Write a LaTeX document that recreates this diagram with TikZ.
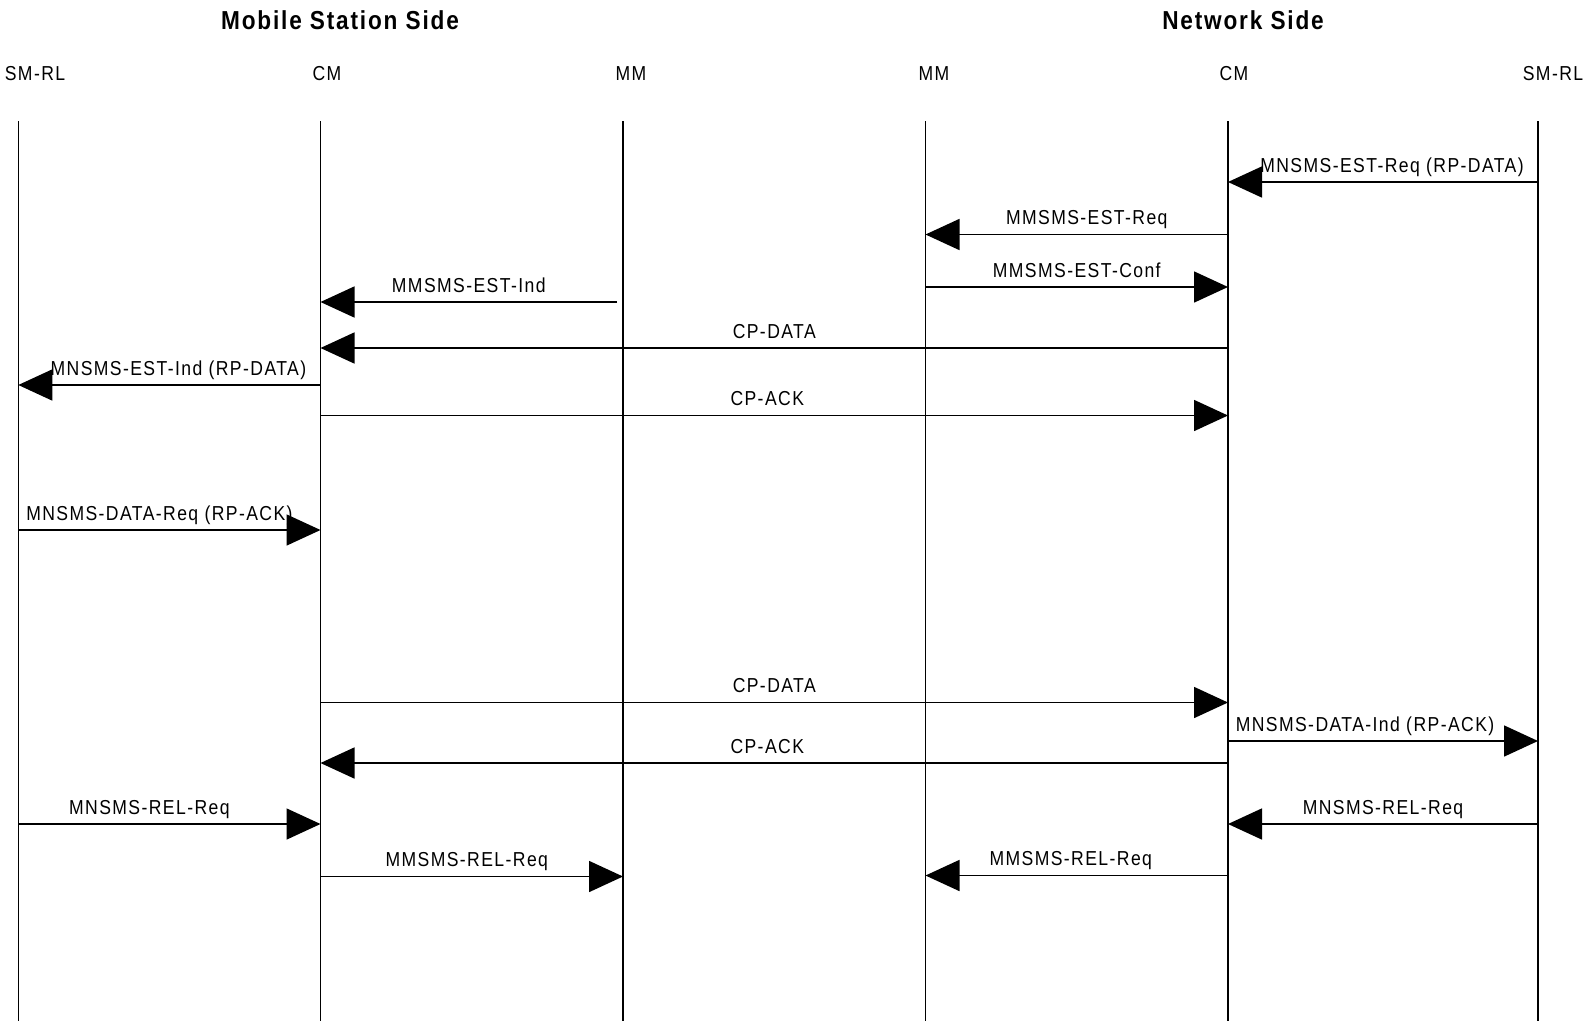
\documentclass[tikz,border=0pt]{standalone}
\usepackage{fontspec}
\setmainfont{Liberation Sans}[FakeStretch=0.87,LetterSpace=7]
\usetikzlibrary{arrows.meta}

\begin{document}
\begin{tikzpicture}[x=0.5pt, y=-0.5pt,
  lifeline/.style={line width=0.8pt},
  msg/.style={line width=0.8pt, -{Triangle[length=17pt,width=15.5pt]}},
  lbl/.style={font=\fontsize{10.1}{12}\selectfont, inner sep=0pt, anchor=base},
  side/.style={font=\fontsize{13}{15}\bfseries\selectfont, inner sep=0pt},
  ]
  \useasboundingbox (0,0) rectangle (1585,1023);

  % the two sides
  \node[side] (mobile) at (340,20) {Mobile Station Side};
  \node[side] (network) at (1243,20) {Network Side};

  % layer names
  \node[lbl] (smrlA) at (35,80) {SM-RL};
  \node[lbl] (cmA) at (327,80) {CM};
  \node[lbl] (mmA) at (631,80) {MM};
  \node[lbl] (mmB) at (934,80) {MM};
  \node[lbl] (cmB) at (1234,80) {CM};
  \node[lbl] (smrlB) at (1553,80) {SM-RL};

  % lifelines
  \foreach \name/\x in {sA/18.3, cA/320.5, mA/623, mB/925.5, cB/1228, sB/1538} {
    \coordinate (\name) at (\x,121);
    \coordinate (\name end) at (\x,1021);
    \draw[lifeline] (\name) -- (\name end);
  }

  % establishment
  \draw[msg] (sB |- 0,182) -- node[lbl, midway, yshift=5pt, xshift=4.5pt] {MNSMS-EST-Req (RP-DATA)} (cB |- 0,182);
  \draw[msg] (cB |- 0,234.5) -- node[lbl, midway, yshift=5pt, xshift=5pt] {MMSMS-EST-Req} (mB |- 0,234.5);
  \draw[msg] (mB |- 0,287) -- node[lbl, midway, yshift=5pt] {MMSMS-EST-Conf} (cB |- 0,287);
  \draw[msg] ([xshift=-3pt]mA |- 0,302) -- node[lbl, midway, yshift=5pt] {MMSMS-EST-Ind} (cA |- 0,302);
  \draw[msg] (cB |- 0,348) -- node[lbl, midway, yshift=5pt] {CP-DATA} (cA |- 0,348);
  \draw[msg] (cA |- 0,385) -- node[lbl, midway, yshift=5pt, xshift=4.5pt] {MNSMS-EST-Ind (RP-DATA)} (sA |- 0,385);
  \draw[msg] (cA |- 0,415.5) -- node[lbl, midway, yshift=5pt, xshift=-3.5pt] {CP-ACK} (cB |- 0,415.5);

  % report
  \draw[msg] (sA |- 0,530) -- node[lbl, midway, yshift=5pt, xshift=-5pt] {MNSMS-DATA-Req (RP-ACK)} (cA |- 0,530);
  \draw[msg] (cA |- 0,702.5) -- node[lbl, midway, yshift=5pt] {CP-DATA} (cB |- 0,702.5);
  \draw[msg] (cB |- 0,741) -- node[lbl, midway, yshift=5pt, xshift=-9pt] {MNSMS-DATA-Ind (RP-ACK)} (sB |- 0,741);
  \draw[msg] (cB |- 0,763) -- node[lbl, midway, yshift=5pt, xshift=-3.5pt] {CP-ACK} (cA |- 0,763);

  % release
  \draw[msg] (sA |- 0,824) -- node[lbl, midway, yshift=5pt, xshift=-10pt] {MNSMS-REL-Req} (cA |- 0,824);
  \draw[msg] (sB |- 0,824) -- node[lbl, midway, yshift=5pt] {MNSMS-REL-Req} (cB |- 0,824);
  \draw[msg] (cA |- 0,876.5) -- node[lbl, midway, yshift=5pt, xshift=-2.5pt] {MMSMS-REL-Req} (mA |- 0,876.5);
  \draw[msg] (cB |- 0,875.5) -- node[lbl, midway, yshift=5pt, xshift=-3pt] {MMSMS-REL-Req} (mB |- 0,875.5);
\end{tikzpicture}
\end{document}
